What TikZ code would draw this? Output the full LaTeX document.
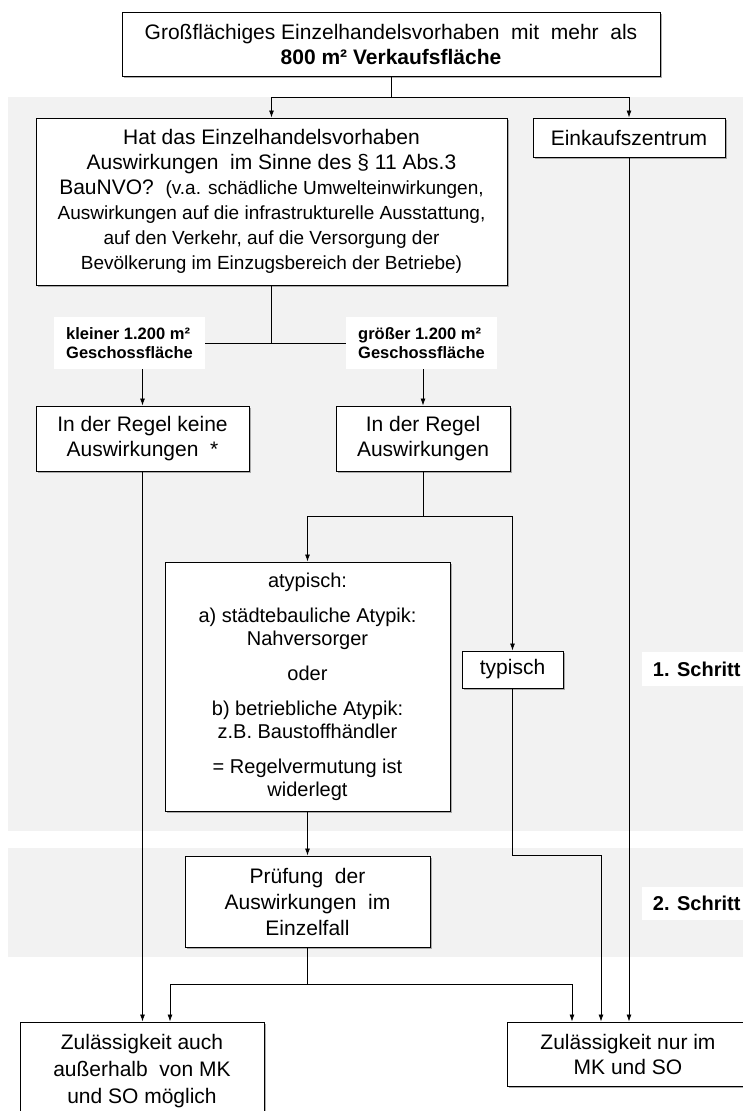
\documentclass[tikz,border=0pt]{standalone}
\usepackage{fontspec}
\setmainfont{Liberation Sans}
\usetikzlibrary{arrows.meta, positioning, shadows}
\definecolor{bandgray}{HTML}{F2F2F2}
\newcommand{\smallpart}{\fontsize{19}{24}\selectfont}

\begin{document}
\begin{tikzpicture}[x=1pt, y=-1pt, >={Latex[length=7pt, width=5pt]}]
    \tikzset{box/.style = {rectangle, draw, line width=1pt, fill=white, align=center, inner sep=0pt, font=\fontsize{21}{25}\selectfont, drop shadow={shadow xshift=2pt, shadow yshift=-2pt, fill=black!45, opacity=0.7}}}
    \tikzset{cond/.style = {rectangle, fill=white, align=left, inner sep=0pt, minimum width=151, minimum height=52, font=\bfseries\fontsize{16.5}{19}\selectfont}}
    \tikzset{steplabel/.style = {rectangle, fill=white, anchor=west, inner sep=0pt, minimum width=101, minimum height=34, font=\bfseries\fontsize{20}{24}\selectfont}}
    \tikzset{line/.style = {draw, line width=0.8pt}}
    \tikzset{arrow/.style = {line, ->}}

    % Background
    \fill [white] (0,0) rectangle (743,1111);
    \useasboundingbox (0,0) rectangle (743,1111);
    \fill [bandgray] (8,97) rectangle (743,831);
    \fill [bandgray] (8,848) rectangle (743,957);

    % Boxes
    \node [box, minimum width=538, minimum height=64] (top) at (391,44) {Großflächiges Einzelhandelsvorhaben\ \ mit\ \ mehr\ \ als\\ \textbf{800 m² Verkaufsfläche}};
    \node [box, minimum width=471, minimum height=167] (hat) at (271.5,201.5) {Hat das Einzelhandelsvorhaben\\ Auswirkungen\ \ im Sinne des \S~11 Abs.3\\ BauNVO?\ \ \smallpart(v.a. schädliche Umwelteinwirkungen,\\ \smallpart Auswirkungen auf die infrastrukturelle Ausstattung,\\ \smallpart auf den Verkehr, auf die Versorgung der\\ \smallpart Bevölkerung im Einzugsbereich der Betriebe)};
    \node [box, minimum width=192, minimum height=39] (ekz) at (629,137.5) {Einkaufszentrum};
    \node [cond] (lblk) at (129.5,343) {kleiner 1.200 m²\\ Geschossfläche};
    \node [cond] (lblg) at (421.5,343) {größer 1.200 m²\\ Geschossfläche};
    \node [box, minimum width=213, minimum height=65] (keine) at (142.5,438.5) {In der Regel keine\\ Auswirkungen\ \ *};
    \node [box, minimum width=174, minimum height=65] (ausw) at (423,438.5) {In der Regel\\ Auswirkungen};
    \node [box, minimum width=285, minimum height=249, font=\fontsize{20}{23}\selectfont] (atyp) at (307.5,686.5) {atypisch:\\[12pt] a) städtebauliche Atypik:\\ Nahversorger\\[12pt] oder\\[12pt] b) betriebliche Atypik:\\ z.B. Baustoffhändler\\[12pt] = Regelvermutung ist\\ widerlegt};
    \node [box, minimum width=101, minimum height=37] (typ) at (512.5,669.5) {typisch};
    \node [steplabel] (step1) at (642,669) {\hspace{8pt}1. Schritt};
    \node [box, minimum width=245, minimum height=91, font=\fontsize{21}{26}\selectfont] (pruef) at (307.5,901.5) {Prüfung\ \ der\\ Auswirkungen\ \ im\\ Einzelfall};
    \node [steplabel, minimum height=33] (step2) at (642,903.5) {\hspace{8pt}2. Schritt};
    \node [box, minimum width=244, minimum height=98, font=\fontsize{21}{27}\selectfont] (zleft) at (142,1071) {Zulässigkeit auch\\ außerhalb\ \ von MK\\ und SO möglich};
    \node [box, minimum width=242, minimum height=64] (zright) at (628,1054) {Zulässigkeit nur im\\ MK und SO};
    \coordinate (bend) at (601,855);

    % Connections
    \draw [line] (top.south) -- ++(0,21) coordinate (split1);
    \draw [arrow] (split1) -| (hat.north);
    \draw [arrow] (split1) -| (ekz.north);
    \draw [line] (hat.south) -- (hat.south |- lblk.east);
    \draw [line] (lblk.east) -- (lblg.west);
    \draw [arrow] (lblk.south -| keine.north) -- (keine.north);
    \draw [arrow] (lblg.south -| ausw.north) -- (ausw.north);
    \draw [arrow] (keine.south) -- (keine.south |- zleft.north);
    \draw [arrow] (ekz.south) -- (ekz.south |- zright.north);
    \draw [line] (ausw.south) -- ++(0,45) coordinate (split2);
    \draw [arrow] (split2) -| (atyp.north);
    \draw [arrow] (split2) -| (typ.north);
    \draw [arrow] (atyp.south) -- (pruef.north);
    \draw [arrow] (typ.south) |- (bend) -- (bend |- zright.north);
    \draw [line] (pruef.south) -- ++(0,37) coordinate (split3);
    \draw [arrow] (split3) -| ([xshift=28pt]zleft.north);
    \draw [arrow] (split3) -| ([xshift=-56pt]zright.north);
\end{tikzpicture}
\end{document}
